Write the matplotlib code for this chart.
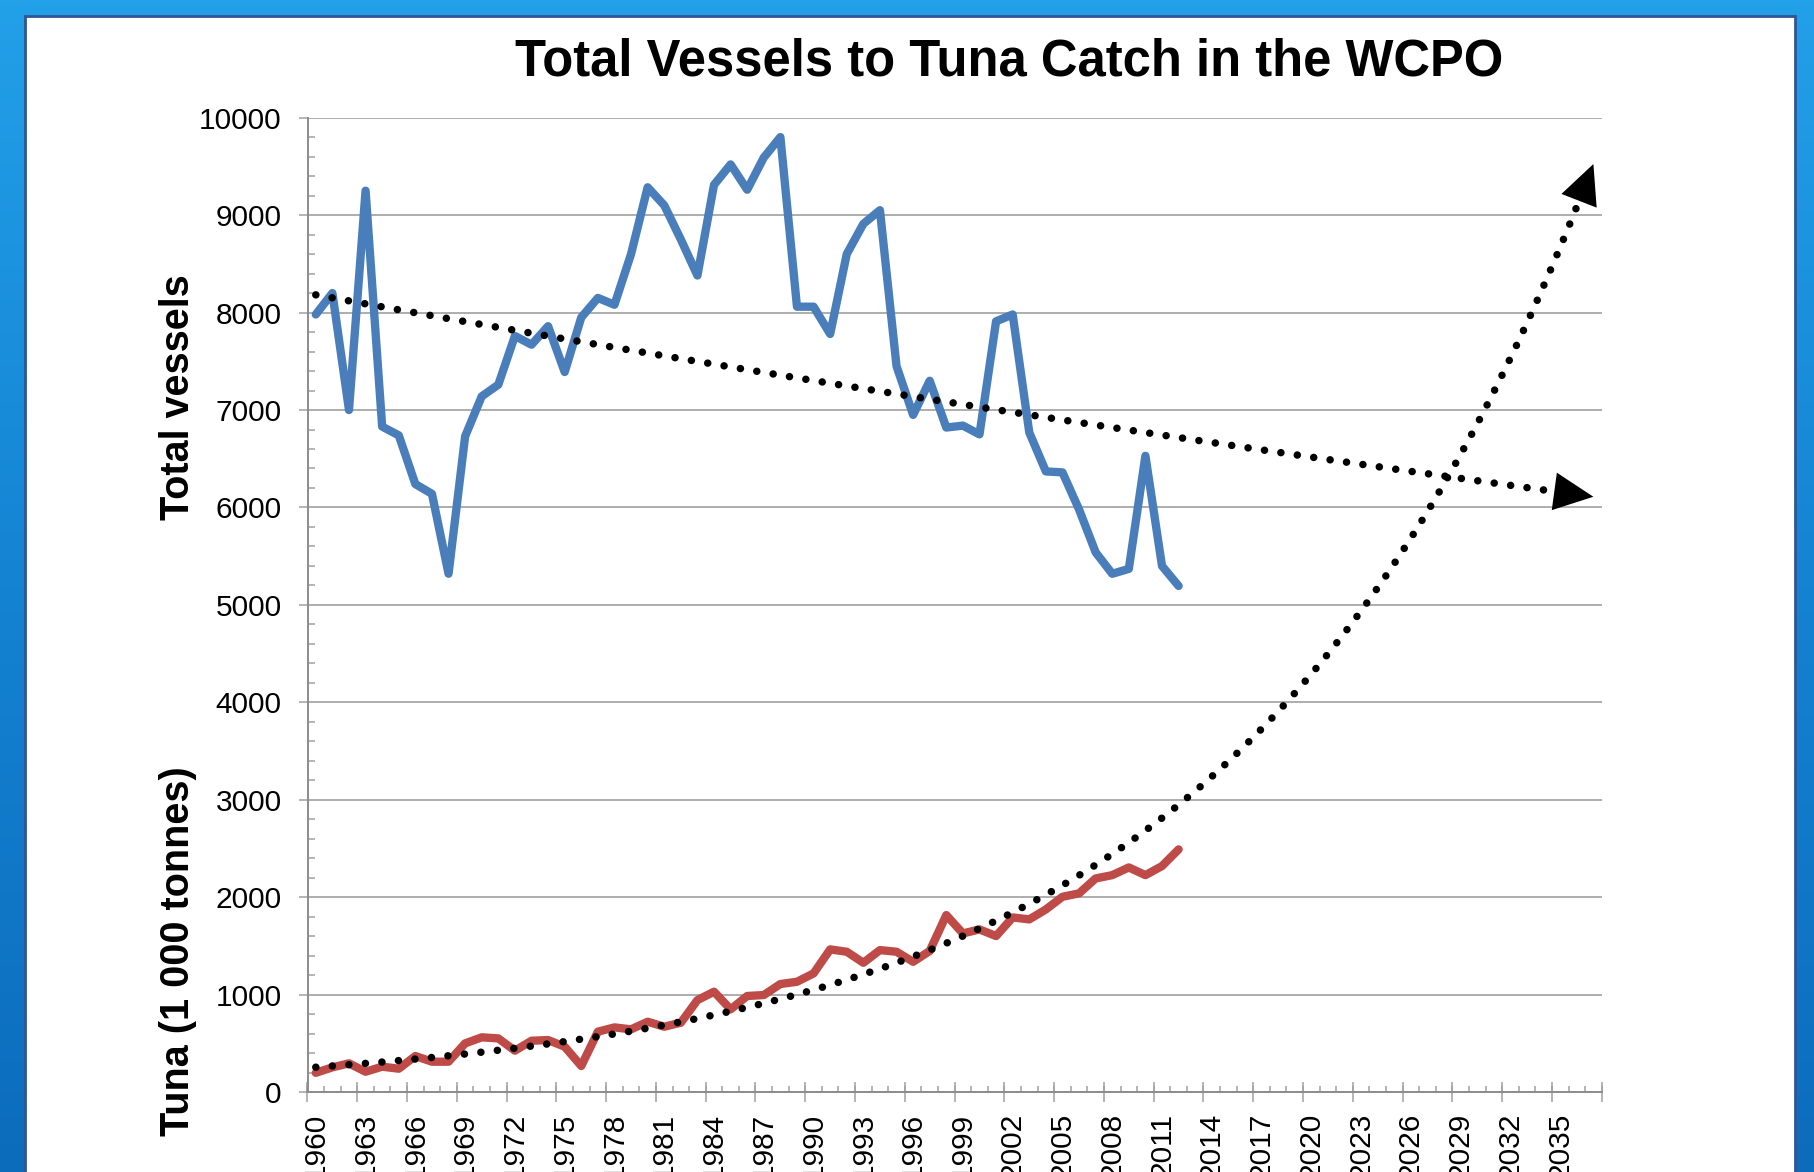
import numpy as np
import matplotlib
matplotlib.use("Agg")
import matplotlib.pyplot as plt
from matplotlib.patches import Rectangle
from matplotlib.colors import LinearSegmentedColormap

plt.rcParams['font.family'] = ['Liberation Sans', 'DejaVu Sans']

# data
years = np.arange(1960, 2013)
vessels = [7980, 8200, 7000, 9250, 6830, 6740, 6240, 6140, 5320, 6730,
           7140, 7260, 7760, 7670, 7860, 7390, 7950, 8150, 8080, 8600,
           9285, 9100, 8750, 8380, 9310, 9520, 9260, 9590, 9800, 8060,
           8060, 7780, 8600, 8910, 9050, 7450, 6950, 7300, 6820, 6840,
           6750, 7910, 7980, 6770, 6370, 6360, 5980, 5540, 5320, 5370,
           6530, 5400, 5195]
tuna = [200, 256, 297, 211, 263, 242, 372, 314, 314, 502,
        564, 553, 427, 529, 536, 468, 270, 622, 666, 646,
        724, 673, 714, 946, 1032, 851, 988, 998, 1111, 1134,
        1220, 1466, 1442, 1329, 1459, 1442, 1339, 1450, 1818, 1630,
        1671, 1603, 1794, 1774, 1876, 2006, 2041, 2194, 2228, 2307,
        2228, 2321, 2492]
label_years = list(range(1960, 2036, 3))
forecast_end = 2037

blue = '#4A7EBB'
red = '#BE4B48'
grey = '#A0A0A0'

W, H = 1814, 1172
fig = plt.figure(figsize=(W / 100, H / 100), dpi=100)

# slide background
bg = fig.add_axes([0, 0, 1, 1], zorder=-2)
grad = np.linspace(0, 1, 256).reshape(-1, 1)
cmap = LinearSegmentedColormap.from_list('bg', ['#22A0E8', '#1483D2', '#0C6CBC'])
bg.imshow(grad, aspect='auto', cmap=cmap, extent=[0, 1, 0, 1])
bg.axis('off')
panel = Rectangle((25 / W, -0.01), (1795 - 25) / W, 1 + 0.01 - 16 / H,
                  transform=fig.transFigure, facecolor='white',
                  edgecolor='#2F5597', lw=2, zorder=-1)
fig.add_artist(panel)

ax = fig.add_axes([307.5 / W, (H - 1092.3) / H, (1601.7 - 307.5) / W, (1092.3 - 117.6) / H])
ax.set_facecolor('none')

ax.plot(years, vessels, color=blue, lw=6, solid_joinstyle='round', solid_capstyle='round', zorder=3)
ax.plot(years, tuna, color=red, lw=6, solid_joinstyle='round', solid_capstyle='round', zorder=3)


def exp_trend(vals, stop):
    # exponential trendline, forecast forward to 2037
    k, lnc = np.polyfit(years - 1960, np.log(vals), 1)
    xs = np.linspace(1960, forecast_end, 400)
    ys = np.exp(lnc + k * (xs - 1960))
    keep = xs <= stop
    ax.plot(xs[keep], ys[keep], color='black', lw=5.4, linestyle=(0, (0.01, 2.2)),
            dash_capstyle='round', zorder=4)
    x0 = forecast_end - 1
    y0 = np.exp(lnc + k * (x0 - 1960))
    ax.annotate('', xy=(xs[-1], ys[-1]), xytext=(x0, y0),
                arrowprops=dict(arrowstyle='-|>,head_length=1.42,head_width=0.68',
                                mutation_scale=20, color='black', lw=0,
                                shrinkA=0, shrinkB=0), zorder=5)


exp_trend(vessels, 2034.7)
exp_trend(tuna, 2036.1)

ax.set_xlim(1959.5, 2037.5)
ax.set_ylim(0, 10000)

ax.set_yticks(np.arange(0, 10001, 1000))
ax.set_yticks(np.arange(0, 10001, 200), minor=True)
ax.yaxis.grid(True, which='major', color=grey, lw=1.2)
ax.set_axisbelow(True)
ax.tick_params(axis='y', which='major', direction='out', length=6.5, width=1.1,
               color=grey, labelsize=21.5, pad=12)
ax.tick_params(axis='y', which='minor', direction='in', length=5, width=1.1, color=grey)

ax.set_xticks(label_years)
ax.set_xticklabels([str(y) for y in label_years], rotation=90, va='top')
ax.set_xticks(np.arange(1959.5, 2038, 1), minor=True)
ax.tick_params(axis='x', which='major', length=0, labelsize=21.5, pad=14.5)
ax.tick_params(axis='x', which='minor', direction='in', length=4.5, width=1.1, color=grey)

sec = ax.secondary_xaxis('bottom')
sec.set_xticks(np.arange(1959.5, 2038, 3))
sec.tick_params(direction='inout', length=15, width=1.1, color=grey, labelbottom=False)
sec.spines['bottom'].set_visible(False)

for s in ['top', 'right']:
    ax.spines[s].set_visible(False)
for s in ['left', 'bottom']:
    ax.spines[s].set_color('#8C8C8C')
    ax.spines[s].set_linewidth(1.4)

fig.text(1009 / W, (H - 75) / H, 'Total Vessels to Tuna Catch in the WCPO',
         ha='center', va='baseline', fontsize=36.5, fontweight='bold')
fig.text(178 / W, (H - 397) / H, 'Total vessels', rotation=90, ha='center', va='center',
         fontsize=28.5, fontweight='bold')
fig.text(178 / W, (H - 951) / H, 'Tuna (1 000 tonnes)', rotation=90, ha='center', va='center',
         fontsize=28.5, fontweight='bold')

fig.savefig('out.png', dpi=100)
